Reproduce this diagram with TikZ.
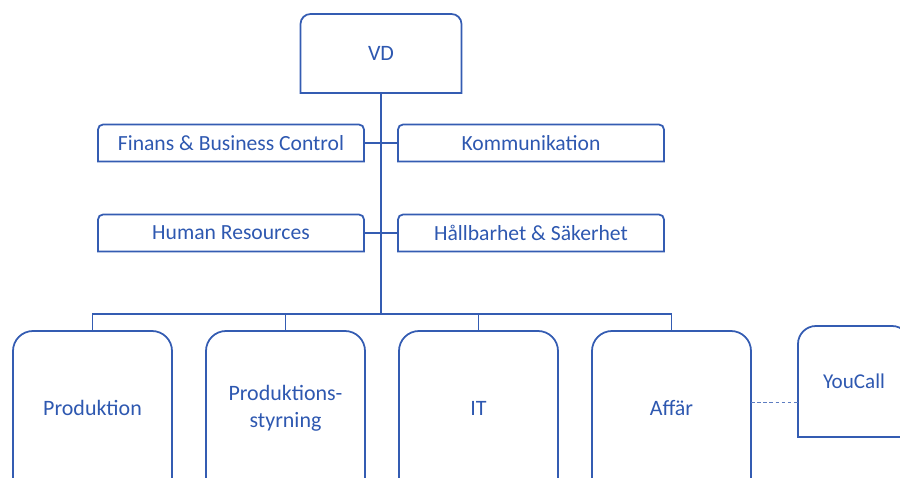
\documentclass[tikz,border=0pt]{standalone}
\usepackage{fontspec}
\setmainfont{Carlito}
\usepackage{tikz}
\usetikzlibrary{positioning}
\definecolor{orgblue}{RGB}{52,92,178}
\definecolor{orgtext}{RGB}{46,88,176}
\tikzset{
    orgline/.style={draw=orgblue, line width=1pt},
    dashline/.style={draw=orgblue!80, line width=0.5pt, dash pattern=on 2pt off 1.5pt},
    chief/.style={rectangle, inner sep=0pt, outer sep=0pt, minimum width=3.22cm, minimum height=1.58cm, text=orgtext, font=\fontsize{12.5}{15}\selectfont},
    staff/.style={rectangle, inner sep=0pt, outer sep=0pt, minimum width=5.32cm, minimum height=0.74cm, text=orgtext, font=\fontsize{12.3}{15}\selectfont},
    dept/.style={rectangle, inner sep=0pt, outer sep=0pt, minimum width=3.18cm, minimum height=3.08cm, text=orgtext, align=center, font=\fontsize{12.5}{15.5}\selectfont},
    extunit/.style={rectangle, inner sep=0pt, outer sep=0pt, minimum width=2.24cm, minimum height=2.22cm, text=orgtext, font=\fontsize{12}{14}\selectfont},
}
\newcommand{\roundtop}[2]{%
    \draw[orgline] (#1.south west) -- ([yshift=-#2]#1.north west)
        arc[start angle=180, end angle=90, radius=#2]
        -- ([xshift=-#2]#1.north east)
        arc[start angle=90, end angle=0, radius=#2]
        -- (#1.south east) -- cycle;}

\begin{document}
\begin{tikzpicture}
    \useasboundingbox (0,0) rectangle (18,-9.56);
    \clip (0,0) rectangle (18,-9.56);
    \node [chief] (vd) at (7.62,-1.07) {VD};
    \node [staff] (fin) at (4.62,-2.86) {Finans \& Business Control};
    \node [staff] (kom) [right=0.68cm of fin] {Kommunikation};
    \node [staff] (hr) [below=1.06cm of fin] {Human Resources};
    \node [staff] (hall) [right=0.68cm of hr] {Hållbarhet \& Säkerhet};
    \node [dept] (prod) at (1.85,-8.16) {Produktion};
    \node [dept] (styr) [right=0.68cm of prod] {Produktions-\\styrning};
    \node [dept] (it) [right=0.68cm of styr] {IT};
    \node [dept] (affar) [right=0.68cm of it] {Affär};
    \node [extunit] (you) [right=0.94cm of affar, yshift=0.53cm] {YouCall};
    \coordinate (bus) at (7.62,-6.28);
    \roundtop{vd}{0.2cm}
    \roundtop{fin}{0.1cm}
    \roundtop{kom}{0.1cm}
    \roundtop{hr}{0.1cm}
    \roundtop{hall}{0.1cm}
    \roundtop{prod}{0.4cm}
    \roundtop{styr}{0.4cm}
    \roundtop{it}{0.4cm}
    \roundtop{affar}{0.4cm}
    \roundtop{you}{0.36cm}
    \draw[orgline] (vd.south) -- (bus);
    \draw[orgline] (fin.east) -- (kom.west);
    \draw[orgline] (hr.east) -- (hall.west);
    \draw[orgline] (prod.north) |- (affar.north |- bus) -- (affar.north);
    \draw[orgline] (styr.north) -- (styr.north |- bus);
    \draw[orgline] (it.north) -- (it.north |- bus);
    \path (affar.east) ++(0,0.12) coordinate (dash1);
    \draw[dashline] (dash1) -- (dash1 -| you.west);
\end{tikzpicture}
\end{document}
